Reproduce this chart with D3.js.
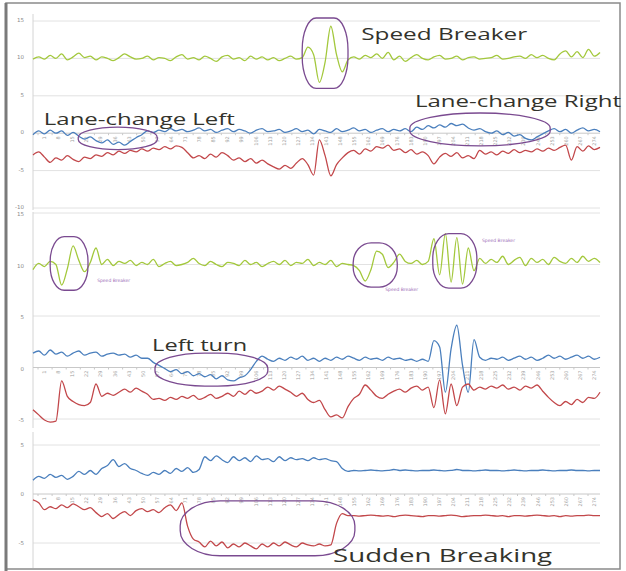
<!DOCTYPE html>
<html>
<head>
<meta charset="utf-8">
<script src="https://cdn.jsdelivr.net/npm/d3@7"></script>
<style>
  body { margin: 0; background: #fff; }
  svg { display: block; }
  .note { font-family: "Open Sans", sans-serif; fill: #33332c; }
</style>
</head>
<body>
<script>
// Sensor traces (three recordings), sampled evenly along the trip
const p1Green = [9.9,10.2,9.9,10.4,10.0,10.6,9.8,10.2,10.7,10.1,10.3,9.8,10.2,10.0,9.7,10.1,10.6,10.2,9.9,10.0,
  10.3,9.8,10.1,10.0,9.7,10.2,10.5,9.9,10.1,9.8,10.3,10.0,9.6,10.2,10.4,9.9,10.1,9.7,10.3,9.9,
  10.2,9.8,10.1,9.7,10.0,10.3,9.9,10.1,11.5,10.5,6.8,9.5,14.3,10.5,8.2,9.8,10.2,9.9,10.4,10.1,
  10.6,10.0,10.8,9.8,10.3,9.6,10.1,10.5,10.0,9.8,10.2,10.4,9.9,10.0,10.3,9.8,10.1,10.2,9.9,10.0,
  10.1,10.4,9.9,10.0,10.2,10.3,10.0,10.5,10.1,10.4,10.0,9.8,10.6,11.0,10.2,10.9,10.1,11.2,10.3,10.8];
const p1Blue = [-0.2,0.3,-0.1,0.4,0.0,0.3,-0.3,0.1,-0.4,-0.8,-0.5,-1.0,-1.3,-0.9,-1.5,-1.2,-1.6,-1.1,-0.6,-0.2,
  0.3,0.1,0.4,0.2,0.6,0.3,0.5,0.2,0.4,0.7,0.3,0.5,0.1,0.4,0.6,0.2,0.5,0.3,0.0,0.4,
  0.6,0.2,0.3,0.5,0.1,0.3,0.6,0.2,0.4,-0.1,0.5,0.3,0.1,0.6,0.2,0.4,0.7,0.3,0.5,0.1,
  0.4,0.6,0.2,0.5,0.3,0.6,0.2,0.8,0.5,1.0,0.7,1.1,0.8,1.3,1.0,1.2,0.7,0.4,0.6,0.2,
  0.0,0.3,-0.2,0.1,-0.4,-0.2,-0.7,-0.9,-0.5,-0.1,0.3,0.6,0.2,0.5,0.0,0.4,0.7,0.3,0.5,0.2];
const p1Red = [-2.9,-2.5,-3.2,-3.9,-3.3,-3.6,-3.0,-3.5,-3.8,-3.2,-3.4,-2.9,-3.1,-2.6,-2.9,-2.4,-2.7,-2.3,-2.5,-2.1,
  -2.4,-2.0,-2.2,-1.8,-2.1,-1.7,-1.9,-2.6,-3.3,-3.0,-3.4,-2.8,-3.2,-2.6,-3.0,-3.6,-3.3,-3.8,-3.4,-4.0,
  -3.6,-4.1,-4.5,-4.8,-4.3,-4.7,-4.0,-3.4,-4.2,-5.6,-0.9,-3.0,-5.7,-4.2,-3.3,-2.6,-2.3,-2.8,-2.1,-2.4,
  -1.8,-2.0,-1.6,-2.3,-2.1,-2.6,-2.2,-2.8,-2.5,-3.0,-4.1,-3.2,-2.7,-3.1,-2.6,-3.3,-3.0,-3.4,-2.3,-2.8,
  -2.5,-2.9,-2.4,-2.7,-2.2,-2.6,-2.3,-2.5,-2.1,-2.4,-2.0,-2.3,-1.9,-1.6,-3.6,-1.8,-2.4,-1.7,-2.2,-1.9];

const p2Green = [9.5,10.1,9.8,10.3,10.0,8.0,9.6,11.8,10.4,9.3,10.2,11.6,10.0,10.5,9.9,10.3,10.1,10.4,9.9,10.2,
  10.0,10.5,9.8,10.1,10.3,9.9,10.0,10.2,10.6,10.1,9.9,10.3,10.0,9.8,10.2,10.1,9.9,10.4,10.0,10.2,
  9.8,10.1,10.3,10.0,10.4,9.9,10.2,10.1,10.5,9.9,10.2,10.0,10.4,9.8,10.1,10.0,9.9,9.4,8.4,9.5,
  11.3,11.0,9.7,10.2,11.0,10.3,10.1,10.4,10.0,10.3,12.5,9.0,13.0,8.3,12.6,8.1,11.6,9.4,10.6,10.1,
  10.5,10.2,10.8,10.0,10.4,10.7,9.9,10.6,10.2,10.5,10.0,10.7,10.3,10.1,10.6,10.2,10.8,10.3,10.6,10.2];
const p2Blue = [1.4,1.6,1.2,1.7,1.3,1.5,1.1,1.4,1.6,1.2,1.4,1.5,1.1,1.3,1.4,1.2,1.3,1.0,1.2,0.9,
  0.9,0.5,0.2,-0.1,-0.4,-0.2,-0.6,-0.4,-0.8,-0.6,-0.9,-0.7,-1.1,-0.8,-1.2,-1.3,-1.0,-0.8,-0.2,0.6,
  1.1,0.8,0.6,0.9,0.7,1.0,0.8,1.1,0.7,0.9,0.6,0.9,0.7,1.0,0.8,1.1,0.9,0.7,1.0,0.8,
  0.9,0.7,1.0,0.8,0.9,0.7,0.8,0.6,0.8,0.6,2.6,2.0,-2.4,1.8,4.1,0.2,-2.4,2.7,1.0,0.7,
  0.9,0.8,1.0,0.7,0.9,1.1,0.8,1.0,0.7,0.9,1.2,0.9,1.1,0.8,1.0,1.2,0.9,1.1,0.8,1.0];
const p2Red = [-4.1,-4.6,-5.1,-5.3,-5.2,-1.3,-2.8,-3.3,-3.6,-3.7,-3.4,-1.6,-2.8,-2.5,-2.7,-2.4,-2.1,-2.4,-2.0,-2.3,
  -2.6,-3.1,-3.0,-3.2,-2.9,-3.1,-2.8,-3.0,-2.7,-3.1,-2.9,-2.6,-3.0,-2.8,-2.5,-2.8,-2.3,-2.6,-2.2,-2.5,
  -2.3,-1.9,-2.2,-1.8,-2.1,-2.4,-2.8,-2.5,-3.1,-3.4,-3.2,-4.1,-4.8,-4.6,-4.9,-3.8,-3.0,-2.6,-1.7,-2.2,
  -2.8,-3.0,-2.6,-2.3,-2.1,-2.4,-2.0,-1.8,-2.2,-1.9,-3.9,-1.2,-4.5,-1.6,-3.7,-1.9,-1.6,-2.2,-1.9,-2.1,
  -1.8,-2.0,-1.7,-2.1,-1.9,-2.2,-1.8,-2.0,-1.7,-2.3,-2.9,-3.4,-3.7,-3.3,-3.6,-3.1,-3.4,-2.9,-3.0,-2.4];

const p3Blue = [1.4,1.8,1.6,2.0,1.7,1.9,1.5,1.8,2.3,2.0,2.4,2.0,2.6,2.9,3.5,2.8,3.1,2.6,2.4,2.1,
  1.9,2.2,2.0,2.4,2.1,2.6,2.3,2.7,2.2,2.5,3.8,3.4,3.9,3.5,3.2,3.8,3.4,3.7,3.3,3.9,
  3.5,3.6,3.3,3.8,3.4,3.7,3.5,3.6,3.4,3.7,3.5,3.6,3.4,3.3,2.6,2.3,2.4,2.35,2.4,2.45,
  2.4,2.35,2.4,2.5,2.4,2.45,2.4,2.35,2.4,2.4,2.45,2.4,2.35,2.4,2.5,2.4,2.4,2.35,2.4,2.45,
  2.4,2.4,2.35,2.4,2.45,2.4,2.35,2.4,2.4,2.45,2.4,2.35,2.4,2.4,2.45,2.4,2.4,2.35,2.4,2.4];
const p3Red = [-0.6,-0.9,-1.6,-1.3,-1.5,-1.1,-1.4,-1.0,-1.3,-1.6,-1.4,-1.9,-2.3,-2.0,-2.5,-2.1,-1.8,-2.2,-1.7,-1.5,
  -1.8,-1.6,-1.9,-1.4,-1.1,-1.7,-0.9,-3.3,-4.6,-4.9,-5.4,-4.8,-5.3,-4.9,-5.5,-5.1,-5.4,-5.0,-5.3,-5.6,
  -5.1,-5.4,-5.0,-5.3,-4.9,-5.2,-5.4,-5.0,-5.2,-5.3,-5.1,-5.3,-5.2,-3.0,-2.0,-2.2,-2.2,-2.25,-2.2,-2.15,
  -2.2,-2.25,-2.2,-2.3,-2.2,-2.15,-2.2,-2.25,-2.3,-2.2,-2.2,-2.25,-2.2,-2.15,-2.2,-2.3,-2.25,-2.2,-2.2,-2.15,
  -2.2,-2.25,-2.2,-2.3,-2.2,-2.2,-2.25,-2.2,-2.15,-2.2,-2.25,-2.2,-2.3,-2.2,-2.25,-2.2,-2.2,-2.15,-2.2,-2.2];

// Axis tick labels
const p1Ticks = [15, 10, 5, 0, -5, -10];
const p2Ticks = [15, 10, 5, 0, -5];
const p3Ticks = [5, 0, -5];
const categoryLabels = d3.range(40).map(k => String(1 + k * 7));

// Annotations: index range, value range
const panel1Notes = [
  { x0: 47, x1: 55, y0: 15.4, y1: 6.0, rx: 14 },
  { x0: 7.9, x1: 21.7, y0: 0.8, y1: -2.2, rx: 40 },
  { x0: 65.8, x1: 90.3, y0: 2.7, y1: -1.7, rx: 70 }
];
const panel2Notes = [
  { x0: 3, x1: 9.6, y0: 12.7, y1: 7.5, rx: 14 },
  { x0: 55.9, x1: 63.6, y0: 12.1, y1: 7.8, rx: 18 },
  { x0: 69.8, x1: 77.5, y0: 13.0, y1: 7.7, rx: 16 },
  { x0: 21.3, x1: 41, y0: 1.4, y1: -1.8, rx: 50 }
];
const panel3Notes = [
  { x0: 25.7, x1: 56.2, y0: -0.7, y1: -6.3, rx: 40 }
];

const width = 626;
const height = 571;
const colors = { green: '#a3c83c', blue: '#4a7fbd', red: '#c2474a', note: '#7a4a90' };

const svg = d3.select('body')
  .append('svg')
  .attr('width', width)
  .attr('height', height);

// Outer frame
svg.append('rect')
  .attr('x', 6).attr('y', 3)
  .attr('width', 614).attr('height', 566)
  .attr('fill', 'none')
  .attr('stroke', '#8a8a8a')
  .attr('stroke-width', 1.5);
svg.append('line')
  .attr('x1', 6).attr('x2', 6).attr('y1', 3).attr('y2', 571)
  .attr('stroke', '#7a7a7a').attr('stroke-width', 3);

const x = d3.scaleLinear().domain([0, p1Green.length - 1]).range([33, 600]);

const panels = [
  { domain: [-10, 15], range: [208, 21], top: 14, bottom: 210, ticks: p1Ticks, labelDy: 1,
    series: [[p1Green, colors.green], [p1Blue, colors.blue], [p1Red, colors.red]], notes: panel1Notes },
  { domain: [-5, 15], range: [419, 213], top: 212, bottom: 428, ticks: p2Ticks, labelDy: 3,
    series: [[p2Green, colors.green], [p2Blue, colors.blue], [p2Red, colors.red]], notes: panel2Notes },
  { domain: [-5, 5], range: [543, 445], top: 432, bottom: 568, ticks: p3Ticks, labelDy: 2,
    series: [[p3Blue, colors.blue], [p3Red, colors.red]], notes: panel3Notes }
];

panels.forEach(p => {
  const y = d3.scaleLinear().domain(p.domain).range(p.range);
  p.y = y;
  const g = svg.append('g');

  // gridlines
  g.selectAll('.grid')
    .data(p.ticks.filter(t => t !== 0))
    .enter()
    .append('line')
    .attr('x1', 33).attr('x2', 600)
    .attr('y1', d => y(d)).attr('y2', d => y(d))
    .attr('stroke', '#e2e2e2');

  // value axis
  g.append('line')
    .attr('x1', 33).attr('x2', 33)
    .attr('y1', p.top).attr('y2', p.bottom)
    .attr('stroke', '#d4d4d4');

  g.selectAll('.ytick')
    .data(p.ticks)
    .enter()
    .append('text')
    .attr('x', 24)
    .attr('y', d => y(d) + p.labelDy)
    .attr('text-anchor', 'end')
    .style('font', '5.5px "DejaVu Sans", sans-serif')
    .style('fill', '#8a8a8a')
    .text(d => d);

  // category axis on the zero line
  const cat = d3.scalePoint().domain(categoryLabels).range([44, 594]);
  g.append('line')
    .attr('x1', 33).attr('x2', 600)
    .attr('y1', y(0)).attr('y2', y(0))
    .attr('stroke', '#c8c8c8');
  g.selectAll('.ctick')
    .data(categoryLabels)
    .enter()
    .append('line')
    .attr('x1', d => cat(d) - 6).attr('x2', d => cat(d) - 6)
    .attr('y1', y(0)).attr('y2', y(0) + 2)
    .attr('stroke', '#c8c8c8');
  g.selectAll('.clabel')
    .data(categoryLabels)
    .enter()
    .append('text')
    .attr('transform', d => `translate(${cat(d) + 2},${y(0) + 3}) rotate(-90)`)
    .attr('text-anchor', 'end')
    .style('font', '5px "DejaVu Sans", sans-serif')
    .style('fill', '#a2a2a2')
    .text(d => d);

  // traces
  const line = d3.line()
    .x((d, i) => x(i))
    .y(d => y(d))
    .curve(d3.curveMonotoneX);
  p.series.forEach(([values, color]) => {
    g.append('path')
      .datum(values)
      .attr('d', line)
      .attr('fill', 'none')
      .attr('stroke', color)
      .attr('stroke-width', 1.3)
      .attr('stroke-linejoin', 'round');
  });

  // hand drawn rings
  g.selectAll('.ring')
    .data(p.notes)
    .enter()
    .append('rect')
    .attr('x', d => x(d.x0))
    .attr('y', d => y(d.y0))
    .attr('width', d => x(d.x1) - x(d.x0))
    .attr('height', d => y(d.y1) - y(d.y0))
    .attr('rx', d => d.rx)
    .attr('ry', d => (y(d.y1) - y(d.y0)) / 2.2)
    .attr('fill', 'none')
    .attr('stroke', colors.note)
    .attr('stroke-width', 1.3);
});

// Big captions
const captions = [
  { text: 'Speed Breaker', panel: 0, i: 57.3, v: 12.5, len: 166, size: 17 },
  { text: 'Lane-change Left', panel: 0, i: 1.9, v: 1.1, len: 191, size: 17 },
  { text: 'Lane-change Right', panel: 0, i: 66.7, v: 3.5, len: 206, size: 17 },
  { text: 'Left turn', panel: 1, i: 20.8, v: 1.6, len: 95, size: 17 },
  { text: 'Sudden Breaking', panel: 2, i: 52.4, v: -6.9, len: 219, size: 18 }
];
svg.selectAll('.caption')
  .data(captions)
  .enter()
  .append('text')
  .attr('class', 'note')
  .attr('x', d => x(d.i))
  .attr('y', d => panels[d.panel].y(d.v))
  .attr('textLength', d => d.len)
  .attr('lengthAdjust', 'spacingAndGlyphs')
  .style('font-size', d => d.size + 'px')
  .text(d => d.text);

// Small captions next to rings
const smallCaptions = [
  { text: 'Speed Breaker', i: 11.2, v: 8.3 },
  { text: 'Speed Breaker', i: 61.5, v: 7.4 },
  { text: 'Speed Breaker', i: 78.4, v: 12.2 }
];
svg.selectAll('.small')
  .data(smallCaptions)
  .enter()
  .append('text')
  .attr('x', d => x(d.i))
  .attr('y', d => panels[1].y(d.v))
  .style('font', '4.5px "DejaVu Sans", sans-serif')
  .style('fill', '#a070b8')
  .text(d => d.text);
</script>
</body>
</html>
